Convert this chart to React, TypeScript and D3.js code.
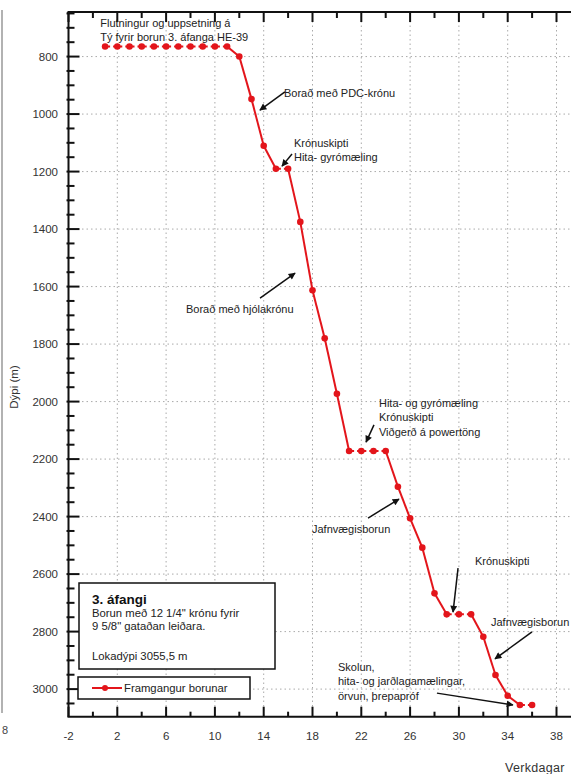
import React from "react";
import * as d3 from "d3";

// ---- data ----
const days = [1, 2, 3, 4, 5, 6, 7, 8, 9, 10, 11, 12, 13, 14, 15, 16, 17, 18, 19, 20, 21, 22, 23, 24, 25, 26, 27, 28, 29, 30, 31, 32, 33, 34, 35, 36];
const depths = [765, 765, 765, 765, 765, 765, 765, 765, 765, 765, 765, 800, 948, 1110, 1190, 1190, 1375, 1613, 1780, 1973, 2172, 2172, 2172, 2172, 2296, 2406, 2508, 2667, 2740, 2740, 2740, 2818, 2951, 3023, 3055.5, 3055.5];
const xMajorTicks = [-2, 2, 6, 10, 14, 18, 22, 26, 30, 34, 38];
const xMinorTicks = [0, 4, 8, 12, 16, 20, 24, 28, 32, 36];
const yMajorTicks = [800, 1000, 1200, 1400, 1600, 1800, 2000, 2200, 2400, 2600, 2800, 3000];
const yMinorTicks = d3.range(650, 3100, 50).filter((v) => v % 200 !== 0);

const seriesName = "Framgangur borunar";
const yTitle = "Dýpi (m)";
const xTitle = "Verkdagar";
const infoTitle = "3. áfangi";
const infoLines = ["Borun með 12 1/4\" krónu fyrir", "9 5/8\" gataðan leiðara."];
const infoLast = "Lokadýpi 3055,5 m";

type Ann = { lines: string[]; at: [number, number]; arrow?: [number, number, number, number] };
const annotations: Ann[] = [
  { lines: ["Flutningur og uppsetning á", "Tý fyrir borun 3. áfanga HE-39"], at: [0.6, 697] },
  { lines: ["Borað með PDC-krónu"], at: [15.66, 941], arrow: [15.74, 923, 13.69, 986] },
  { lines: ["Krónuskipti", "Hita- gyrómæling"], at: [16.48, 1115], arrow: [16.32, 1139, 15.5, 1181] },
  { lines: ["Borað með hjólakrónu"], at: [7.63, 1692], arrow: [13.7, 1640, 16.57, 1553] },
  { lines: ["Hita- og gyrómæling", "Krónuskipti", "Viðgerð á powertöng"], at: [23.45, 2019], arrow: [23.04, 2081, 22.39, 2141] },
  { lines: ["Jafnvægisborun"], at: [17.96, 2457], arrow: [22.55, 2405, 25.09, 2339] },
  { lines: ["Krónuskipti"], at: [31.32, 2568], arrow: [29.93, 2579, 29.52, 2732] },
  { lines: ["Jafnvægisborun"], at: [32.63, 2781], arrow: [35.99, 2801, 32.96, 2895] },
  { lines: ["Skolun,", "hita- og jarðlagamælingar,", "örvun, þrepapróf"], at: [20.09, 2937], arrow: [28.2, 3014, 34.43, 3055] },
];

const W = 571;
const H = 774;
const FONT = "'Liberation Sans', Arial, sans-serif";

export default function App() {
  const x = d3.scaleLinear().domain([-2, 40]).range([68.5, 580.9]);
  const y = d3.scaleLinear().domain([645, 3096]).range([12, 716.7]);
  const left = x(-2);
  const top = y(645);
  const bottom = y(3096);
  const right = W;
  const red = "#e3151b";

  const segs = days.slice(1).map((d, i) => ({
    x1: x(days[i]), y1: y(depths[i]), x2: x(d), y2: y(depths[i + 1]),
    dashed: depths[i] === depths[i + 1],
  }));

  return (
    <svg width={W} height={H} style={{ position: "absolute", left: 0, top: 0, background: "#fff" }} fontFamily={FONT}>
      <defs>
        <marker id="ah" viewBox="0 0 10 10" refX="9" refY="5" markerWidth="9" markerHeight="7" markerUnits="userSpaceOnUse" orient="auto">
          <path d="M0,0 L10,5 L0,10 z" fill="#111" />
        </marker>
      </defs>
      <rect width={W} height={H} fill="#fff" />
      {/* left edge line remnant */}
      <line x1={2} x2={2} y1={10} y2={713} stroke="#999" strokeWidth={1.5} />
      <text x={2} y={734} fontSize={11} fill="#444">8</text>

      {/* grid */}
      {xMajorTicks.filter((t) => t > -2).map((t) => (
        <line key={"gx" + t} x1={x(t)} x2={x(t)} y1={top} y2={bottom} stroke="#aaa" strokeWidth={1} strokeDasharray="1.5,3" />
      ))}
      {yMajorTicks.map((t) => (
        <line key={"gy" + t} x1={left} x2={right} y1={y(t)} y2={y(t)} stroke="#aaa" strokeWidth={1} strokeDasharray="1.5,3" />
      ))}

      {/* axes */}
      <line x1={left} x2={left} y1={top} y2={bottom} stroke="#111" strokeWidth={2} />
      <line x1={left - 1} x2={right} y1={bottom} y2={bottom} stroke="#111" strokeWidth={2} />
      <line x1={left - 1} x2={right} y1={top} y2={top} stroke="#111" strokeWidth={2} />
      {yMajorTicks.map((t) => (
        <g key={"yt" + t}>
          <line x1={left - 2} x2={left + 11} y1={y(t)} y2={y(t)} stroke="#111" strokeWidth={2} />
          <text x={58} y={y(t) + 4} fontSize={11.5} textAnchor="end" fill="#333">{t}</text>
        </g>
      ))}
      {yMinorTicks.map((t) => (
        <line key={"ym" + t} x1={left - 2} x2={left + 6} y1={y(t)} y2={y(t)} stroke="#111" strokeWidth={2} />
      ))}
      {xMajorTicks.map((t) => (
        <g key={"xt" + t}>
          <line x1={x(t)} x2={x(t)} y1={bottom} y2={bottom - 10} stroke="#111" strokeWidth={2} />
          <line x1={x(t)} x2={x(t)} y1={top} y2={top + 10} stroke="#111" strokeWidth={2} />
          <text x={x(t)} y={740} fontSize={11.5} textAnchor="middle" fill="#333">{t}</text>
        </g>
      ))}
      {xMinorTicks.map((t) => (
        <g key={"xm" + t}>
          <line x1={x(t)} x2={x(t)} y1={bottom} y2={bottom - 5} stroke="#111" strokeWidth={2} />
          <line x1={x(t)} x2={x(t)} y1={top} y2={top + 6} stroke="#111" strokeWidth={2} />
        </g>
      ))}
      <text transform={`translate(18,387) rotate(-90)`} fontSize={11.5} textAnchor="middle" fill="#333">{yTitle}</text>
      <text x={505} y={772} fontSize={12.5} fill="#333" letterSpacing={0.3}>{xTitle}</text>

      {/* series */}
      {segs.map((s, i) => (
        <line key={"s" + i} x1={s.x1} y1={s.y1} x2={s.x2} y2={s.y2} stroke={red} strokeWidth={2}
          strokeDasharray={s.dashed ? "5,3" : undefined} />
      ))}
      {days.map((d, i) => (
        <circle key={"p" + i} cx={x(d)} cy={y(depths[i])} r={3.3} fill={red} />
      ))}

      {/* annotations */}
      {annotations.map((a, i) => (
        <g key={"a" + i}>
          {a.lines.map((l, j) => (
            <text key={j} x={x(a.at[0])} y={y(a.at[1]) + j * 14.3} fontSize={11} fill="#222">{l}</text>
          ))}
          {a.arrow && (
            <line x1={x(a.arrow[0])} y1={y(a.arrow[1])} x2={x(a.arrow[2])} y2={y(a.arrow[3])}
              stroke="#111" strokeWidth={1.5} markerEnd="url(#ah)" />
          )}
        </g>
      ))}

      {/* info box */}
      <rect x={79} y={583} width={196} height={86} fill="#fff" stroke="#111" strokeWidth={1.5} />
      <text x={92} y={604} fontSize={13.5} fontWeight="bold" fill="#111">{infoTitle}</text>
      {infoLines.map((l, j) => (
        <text key={j} x={92} y={617 + j * 13} fontSize={11.3} fill="#222">{l}</text>
      ))}
      <text x={92} y={660} fontSize={11.3} fill="#222">{infoLast}</text>

      {/* legend */}
      <rect x={78} y={677} width={172} height={22} fill="#fff" stroke="#111" strokeWidth={1.5} />
      <line x1={92} x2={122} y1={688} y2={688} stroke={red} strokeWidth={2} />
      <circle cx={105} cy={688} r={3} fill={red} />
      <text x={124} y={692} fontSize={11.3} fill="#222">{seriesName}</text>
    </svg>
  );
}
